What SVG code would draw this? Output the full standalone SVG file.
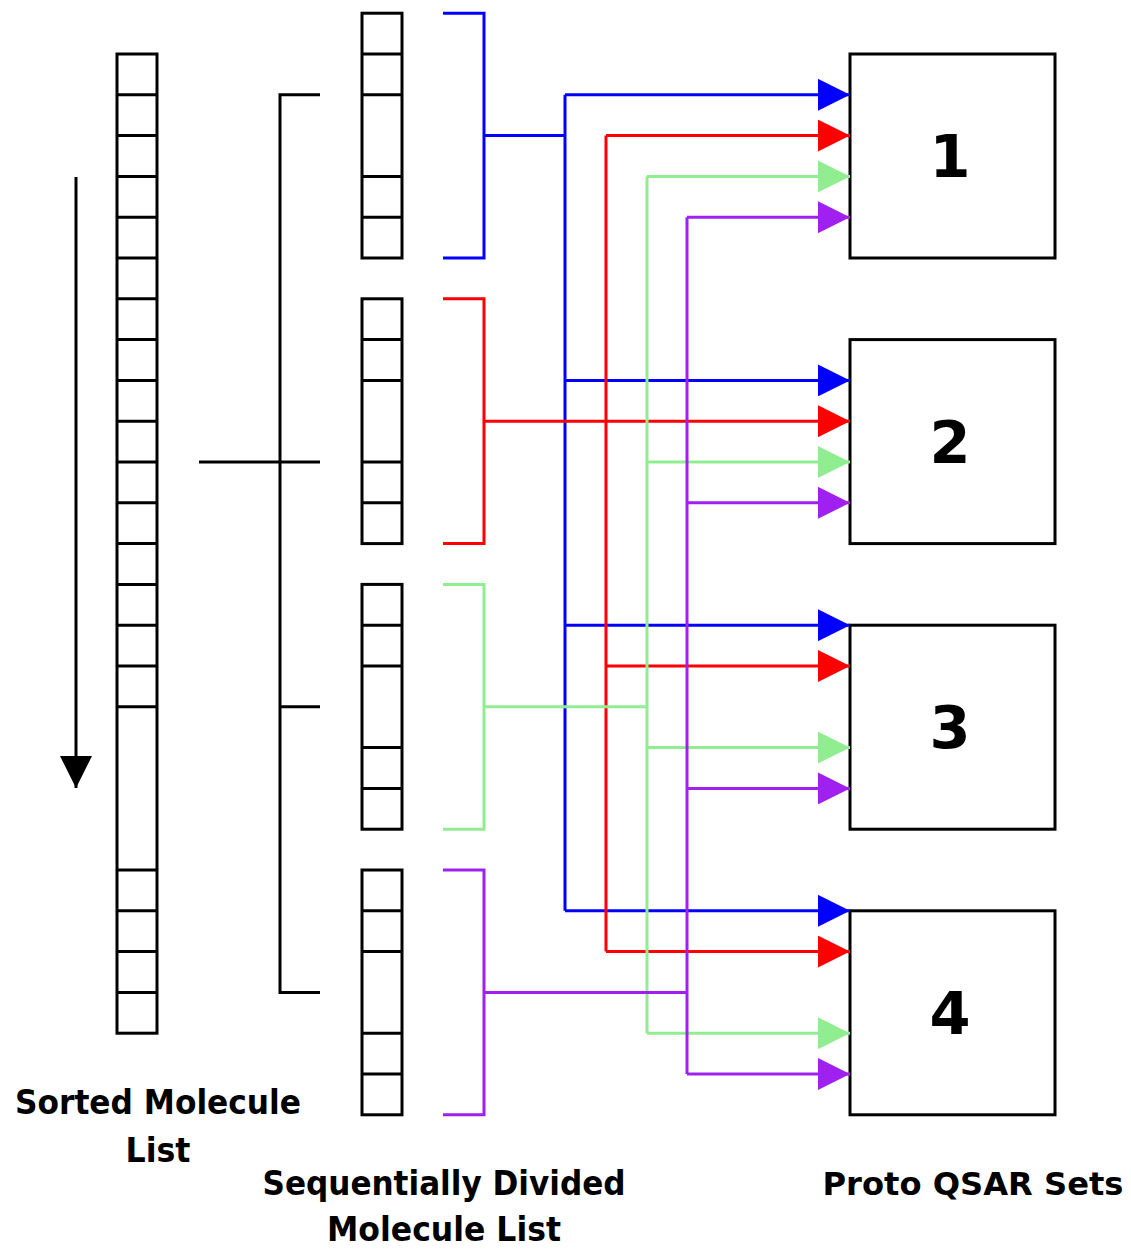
<svg xmlns="http://www.w3.org/2000/svg" width="1131" height="1249" viewBox="0 0 1131 1249">
<style>
.k{stroke:#000;stroke-width:3;fill:none}
.cell{stroke:#000;stroke-width:3;fill:#fff}
.b{stroke:#0000FF;stroke-width:3;fill:none}
.r{stroke:#FF0000;stroke-width:3;fill:none}
.g{stroke:#90EE90;stroke-width:3;fill:none}
.p{stroke:#A020F0;stroke-width:3;fill:none}
.lbl{font-family:"DejaVu Sans Condensed","DejaVu Sans","Liberation Sans",sans-serif;font-stretch:condensed;font-weight:bold;font-size:34px;fill:#000;text-anchor:middle}
.lbl2{font-family:"DejaVu Sans","Liberation Sans",sans-serif;font-weight:bold;font-size:32px;fill:#000;text-anchor:middle}
.num{font-family:"DejaVu Sans","Liberation Sans",sans-serif;font-weight:bold;font-size:59px;fill:#000;text-anchor:middle}
</style>
<defs>
<marker id="mb" markerUnits="userSpaceOnUse" markerWidth="32" markerHeight="32" refX="32" refY="16" orient="auto"><path d="M0,0 L32,16 L0,32 Z" fill="#0000FF"/></marker>
<marker id="mr" markerUnits="userSpaceOnUse" markerWidth="32" markerHeight="32" refX="32" refY="16" orient="auto"><path d="M0,0 L32,16 L0,32 Z" fill="#FF0000"/></marker>
<marker id="mg" markerUnits="userSpaceOnUse" markerWidth="32" markerHeight="32" refX="32" refY="16" orient="auto"><path d="M0,0 L32,16 L0,32 Z" fill="#90EE90"/></marker>
<marker id="mp" markerUnits="userSpaceOnUse" markerWidth="32" markerHeight="32" refX="32" refY="16" orient="auto"><path d="M0,0 L32,16 L0,32 Z" fill="#A020F0"/></marker>
<marker id="mk" markerUnits="userSpaceOnUse" markerWidth="32" markerHeight="32" refX="32" refY="16" orient="auto"><path d="M0,0 L32,16 L0,32 Z" fill="#000"/></marker>
</defs>
<rect width="1131" height="1249" fill="#fff"/>

<g id="sorted-list">
<rect class="cell" x="117" y="54" width="40" height="979.2"/>
<path class="k" d="M117,94.8H157M117,135.6H157M117,176.4H157M117,217.2H157M117,258H157M117,298.8H157M117,339.6H157M117,380.4H157M117,421.2H157M117,462H157M117,502.8H157M117,543.6H157M117,584.4H157M117,625.2H157M117,666H157M117,706.8H157M117,870H157M117,910.8H157M117,951.6H157M117,992.4H157"/>
</g>

<g id="sort-arrow">
<path class="k" d="M76,177V788" marker-end="url(#mk)"/>
</g>

<g id="split-bracket">
<path class="k" d="M320,94.8H280V992.4H320M280,706.8H320M199,462H320"/>
</g>

<g id="list-1">
<rect class="cell" x="362" y="13.2" width="40" height="244.8"/>
<path class="k" d="M362,54H402M362,94.8H402M362,176.4H402M362,217.2H402"/>
</g>
<g id="list-2">
<rect class="cell" x="362" y="298.8" width="40" height="244.8"/>
<path class="k" d="M362,339.6H402M362,380.4H402M362,462H402M362,502.8H402"/>
</g>
<g id="list-3">
<rect class="cell" x="362" y="584.4" width="40" height="244.8"/>
<path class="k" d="M362,625.2H402M362,666H402M362,747.6H402M362,788.4H402"/>
</g>
<g id="list-4">
<rect class="cell" x="362" y="870" width="40" height="244.8"/>
<path class="k" d="M362,910.8H402M362,951.6H402M362,1033.2H402M362,1074H402"/>
</g>

<g id="box-1"><rect class="k" x="850" y="54" width="205" height="204"/><text class="num" x="950" y="177">1</text></g>
<g id="box-2"><rect class="k" x="850" y="339.6" width="205" height="204"/><text class="num" x="950" y="462.6">2</text></g>
<g id="box-3"><rect class="k" x="850" y="625.2" width="205" height="204"/><text class="num" x="950" y="748.2">3</text></g>
<g id="box-4"><rect class="k" x="850" y="910.8" width="205" height="204"/><text class="num" x="950" y="1033.8">4</text></g>

<g id="connectors">
<path class="b" d="M443,13.2H484V258H443M484,135.6H565M565,94.8V910.8"/>
<path class="b" d="M565,94.8H850" marker-end="url(#mb)"/>
<path class="b" d="M565,380.4H850" marker-end="url(#mb)"/>
<path class="b" d="M565,625.2H850" marker-end="url(#mb)"/>
<path class="b" d="M565,910.8H850" marker-end="url(#mb)"/>

<path class="r" d="M443,298.8H484V543.6H443M606,135.6V951.6"/>
<path class="r" d="M606,135.6H850" marker-end="url(#mr)"/>
<path class="r" d="M484,421.2H850" marker-end="url(#mr)"/>
<path class="r" d="M606,666H850" marker-end="url(#mr)"/>
<path class="r" d="M606,951.6H850" marker-end="url(#mr)"/>

<path class="g" d="M443,584.4H484V829.2H443M484,706.8H647M647,176.4V1033.2"/>
<path class="g" d="M647,176.4H850" marker-end="url(#mg)"/>
<path class="g" d="M647,462H850" marker-end="url(#mg)"/>
<path class="g" d="M647,747.6H850" marker-end="url(#mg)"/>
<path class="g" d="M647,1033.2H850" marker-end="url(#mg)"/>

<path class="p" d="M443,870H484V1114.8H443M484,992.4H687M687,217.2V1074"/>
<path class="p" d="M687,217.2H850" marker-end="url(#mp)"/>
<path class="p" d="M687,502.8H850" marker-end="url(#mp)"/>
<path class="p" d="M687,788.4H850" marker-end="url(#mp)"/>
<path class="p" d="M687,1074H850" marker-end="url(#mp)"/>
</g>

<g id="labels">
<text class="lbl" x="158" y="1114" textLength="286" lengthAdjust="spacingAndGlyphs">Sorted Molecule</text>
<text class="lbl" x="158" y="1162" textLength="65" lengthAdjust="spacingAndGlyphs">List</text>
<text class="lbl" x="444" y="1195" textLength="363" lengthAdjust="spacingAndGlyphs">Sequentially Divided</text>
<text class="lbl" x="444" y="1241" textLength="234" lengthAdjust="spacingAndGlyphs">Molecule List</text>
<text class="lbl2" x="973" y="1195" textLength="301" lengthAdjust="spacingAndGlyphs">Proto QSAR Sets</text>
</g>
</svg>
